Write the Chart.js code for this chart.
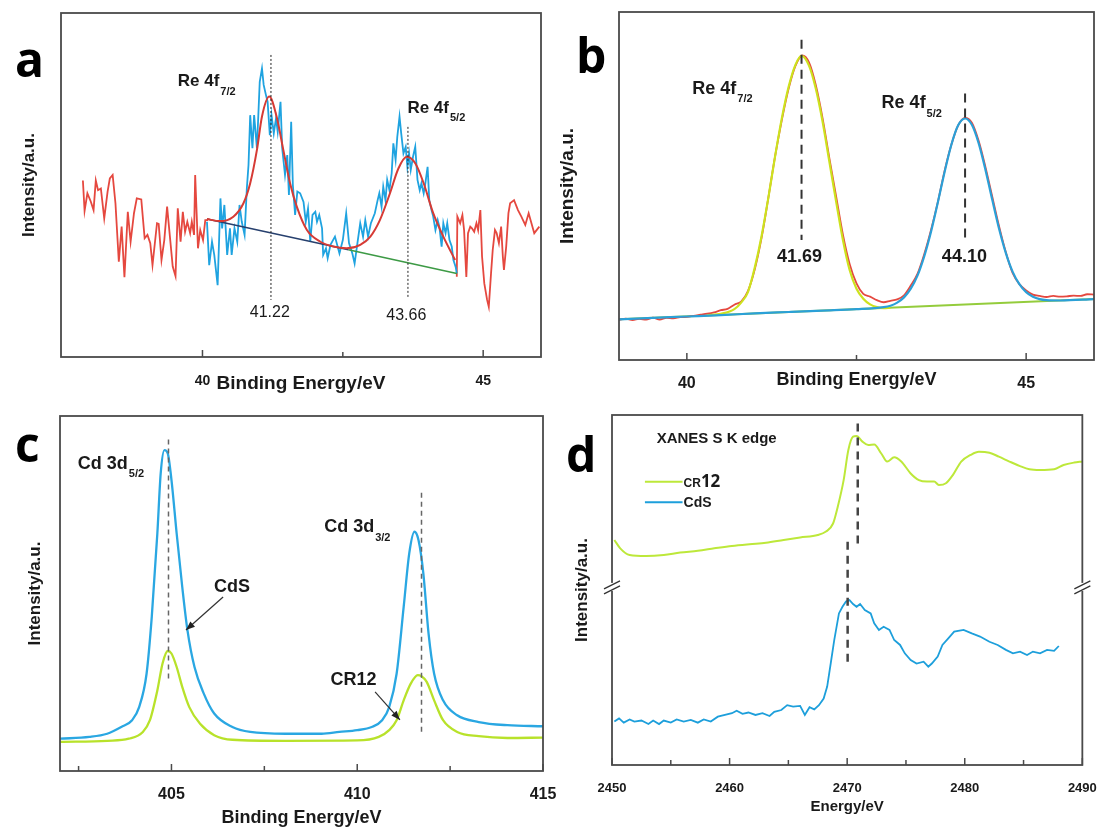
<!DOCTYPE html>
<html>
<head>
<meta charset="utf-8">
<script src="https://cdn.jsdelivr.net/npm/chart.js@4.4.1/dist/chart.umd.min.js"></script>
<style>
  html, body { margin: 0; padding: 0; background: #fff; }
  #wrap { position: relative; width: 1104px; height: 830px; overflow: hidden; }
  canvas { position: absolute; }
</style>
</head>
<body>
<div id="wrap">
  <canvas id="pa" width="552" height="400" style="left:0;top:0"></canvas>
  <canvas id="pb" width="552" height="400" style="left:552px;top:0"></canvas>
  <canvas id="pc" width="565" height="430" style="left:0;top:400px"></canvas>
  <canvas id="pd" width="552" height="430" style="left:552px;top:400px"></canvas>
</div>
<script>
// ---- panel a : Re 4f, noisy spectrum ----
const aRawLeftE = [37.87,37.90,37.95,38.01,38.06,38.10,38.14,38.19,38.25,38.31,38.35,38.40,38.45,38.51,38.56,38.61,38.67,38.72,38.78,38.83,38.91,38.97,39.02,39.07,39.11,39.19,39.22,39.27,39.32,39.37,39.42,39.47,39.52,39.56,39.61,39.65,39.69,39.73,39.78,39.81,39.85,39.87,39.92,39.96,40.01,40.05,40.10];
const aRawLeftI = [51.3,42.5,47.6,45.2,42.7,51.3,48.5,49.0,40.3,48.1,51.9,52.9,44.7,27.7,37.9,23.2,42.2,33.5,41.8,46.1,45.8,34.5,35.5,33.1,26.7,38.9,38.7,28.2,34.0,43.7,35.0,26.3,23.5,43.2,33.5,42.2,36.4,39.3,36.0,39.3,35.5,52.9,31.6,36.9,34.0,39.8,39.8];
const aRawMidE = [40.08,40.12,40.17,40.21,40.27,40.32,40.35,40.39,40.44,40.49,40.52,40.57,40.62,40.66,40.70,40.75,40.79,40.82,40.85,40.89,40.92,40.97,41.02,41.06,41.09,41.13,41.16,41.20,41.23,41.27,41.31,41.34,41.39,41.42,41.47,41.51,41.54,41.58,41.61,41.65,41.69,41.74,41.80,41.84,41.88,41.92,41.96,42.01,42.04,42.08,42.13,42.15,42.20,42.23,42.28,42.36,42.44,42.50,42.56,42.61,42.67,42.71,42.76,42.81,42.86,42.90,42.95,43.00,43.07,43.12,43.15,43.19,43.22,43.26,43.29,43.33,43.37,43.40,43.44,43.47,43.51,43.54,43.58,43.62,43.65,43.68,43.71,43.75,43.79,43.83,43.87,43.90,43.94,43.97,44.01,44.04,44.08,44.11,44.15,44.19,44.22,44.26,44.29,44.33,44.36,44.40,44.44,44.47,44.51,44.53];
const aRawMidI = [39.3,26.7,33.5,29.7,20.9,46.1,37.4,44.2,29.7,37.4,29.7,37.4,33.5,44.2,39.3,35.5,49.0,55.8,70.3,60.7,70.3,60.7,80.0,83.9,79.1,76.2,74.2,64.5,70.3,65.0,69.4,65.5,74.2,60.7,52.9,58.7,47.1,68.4,50.0,41.3,48.1,47.6,45.1,39.3,43.2,33.5,41.3,42.2,39.3,41.3,37.4,29.7,31.6,28.7,32.6,35.0,30.1,34.0,41.8,33.1,30.1,27.2,33.1,38.9,35.0,39.8,35.0,38.9,41.8,45.6,47.6,43.7,49.5,45.6,51.5,48.5,53.4,62.1,57.3,64.0,69.9,65.0,59.2,61.1,55.3,59.2,54.4,58.2,61.1,51.5,48.5,50.5,47.6,50.5,55.3,45.6,42.7,40.8,36.9,39.8,37.9,32.1,38.9,36.0,38.9,34.0,32.1,28.2,26.2,24.3];
const aRawRightE = [44.53,44.54,44.59,44.63,44.66,44.70,44.73,44.77,44.80,44.84,44.88,44.91,44.95,44.98,45.02,45.07,45.10,45.14,45.17,45.21,45.24,45.28,45.32,45.35,45.37,45.41,45.45,45.48,45.55,45.62,45.68,45.75,45.81,45.91,46.00];
const aRawRightI = [23.3,40.8,38.9,41.3,36.9,23.3,36.0,37.9,37.4,36.4,38.9,36.9,42.7,29.2,21.4,16.6,14.6,24.3,31.1,36.9,36.0,33.1,37.9,29.2,25.3,32.1,41.8,44.7,45.6,42.7,40.8,38.4,41.8,36.0,37.9];
const aFitE = [40.08,40.31,40.55,40.73,40.85,40.97,41.06,41.19,41.32,41.44,41.56,41.68,41.86,42.10,42.33,42.57,42.81,42.99,43.16,43.34,43.49,43.64,43.79,43.94,44.11,44.29,44.50];
const aFitI = [40.1,39.5,40.8,44.7,50.5,60.2,69.9,75.7,69.9,60.2,50.5,43.7,36.9,33.5,32.1,31.6,32.6,35.0,39.8,47.6,54.8,58.2,56.3,50.5,41.8,35.0,28.2];
const aBaseE = [40.08, 42.60, 44.53];
const aBaseI = [40.1, 31.2, 24.3];

// ---- panel b : Re 4f, fitted spectrum ----
const bRawE = [39.0,39.1,39.2,39.3,39.4,39.5,39.6,39.7,39.8,39.9,40.0,40.1,40.2,40.3,40.4,40.5,40.6,40.7,40.8,40.9,41.0,41.1,41.2,41.3,41.4,41.5,41.6,41.7,41.8,41.9,42.0,42.1,42.2,42.3,42.4,42.5,42.6,42.7,42.8,42.9,43.0,43.1,43.2,43.3,43.4,43.5,43.6,43.7,43.8,43.9,44.0,44.1,44.2,44.3,44.4,44.5,44.6,44.7,44.8,44.9,45.0,45.1,45.2,45.3,45.4,45.5,45.6,45.7,45.8,45.9,46.0];
const bRawI = [11.5,11.9,11.5,11.8,11.6,12.2,11.6,12.1,12.0,12.3,12.4,12.7,13.0,13.3,13.7,14.3,14.7,15.9,16.8,19.8,26.0,35.0,46.5,58.5,69.0,78.0,84.5,87.5,85.5,79.0,69.5,58.0,47.0,36.0,27.5,22.0,19.0,18.2,17.2,16.6,17.0,17.4,18.6,21.4,24.8,30.5,37.5,45.5,54.5,62.0,67.5,69.6,68.2,63.0,55.5,47.0,38.5,31.0,25.0,21.8,20.0,18.8,18.4,18.1,18.4,18.2,18.3,18.5,18.4,18.9,18.8];
const bPeak1E = [40.3,40.5,40.7,40.8,40.9,41.0,41.1,41.2,41.3,41.4,41.5,41.6,41.69,41.8,41.9,42.0,42.1,42.2,42.3,42.4,42.5,42.6,42.7,42.8,42.9,43.0];
const bPeak1I = [12.9,13.3,14.6,16.5,19.5,26.5,35.5,46.5,58.5,69.5,78.5,84.8,87.4,84.6,78.0,68.5,57.0,45.5,34.5,25.8,20.5,17.6,16.0,15.2,14.9,15.0];
const bPeak2E = [39.0,39.5,40.0,40.5,41.0,41.5,42.0,42.5,42.9,43.0,43.1,43.2,43.3,43.4,43.5,43.6,43.7,43.8,43.9,44.0,44.1,44.2,44.3,44.4,44.5,44.6,44.7,44.8,44.9,45.0,45.1,45.2,45.3,45.5,46.0];
const bPeak2I = [11.7,12.1,12.5,12.9,13.4,13.8,14.2,14.6,15.2,15.6,16.5,18.0,20.5,24.3,29.9,37.0,45.4,54.2,62.0,67.5,69.4,67.6,62.3,54.7,46.1,37.8,30.8,25.4,21.8,19.5,18.2,17.5,17.2,17.1,17.5];
const bBaseE = [39.0, 46.0];
const bBaseI = [11.7, 17.5];

// ---- panel c : Cd 3d ----
const cCdSE = [402.0,402.79,403.27,403.65,403.94,404.13,404.33,404.47,404.62,404.71,404.81,404.90,405.0,405.14,405.29,405.43,405.62,405.87,406.15,406.64,407.12,408.07,409.04,409.52,410.0,410.39,410.67,410.86,411.06,411.25,411.40,411.54,411.65,411.78,411.92,412.07,412.31,412.69,413.27,414.04,415.0];
const cCdSI = [9.1,9.6,10.5,12.4,14.3,18.0,27.4,43.4,66.9,83.8,90.4,89.5,82.0,66.9,51.9,39.7,29.3,21.8,16.2,12.4,11.0,10.5,10.5,11.0,11.5,12.4,14.3,18.0,27.4,46.2,61.3,67.4,65.0,55.6,38.7,27.4,19.9,15.7,13.8,12.9,12.6];
const cCR12E = [402.0,403.27,403.85,404.23,404.42,404.62,404.76,404.90,405.0,405.14,405.29,405.48,405.77,406.15,406.64,408.07,410.0,410.58,410.86,411.06,411.25,411.44,411.63,411.73,411.87,412.07,412.31,412.69,413.27,414.04,415.0];
const cCR12I = [8.2,8.5,9.1,11.0,14.3,22.7,30.3,33.8,33.1,29.3,23.7,18.0,13.3,10.1,8.8,8.5,8.6,9.6,11.5,14.3,19.9,24.6,27.0,26.7,25.1,19.9,14.3,11.0,9.8,9.3,9.4];

// ---- panel d : XANES S K edge ----
const dCR12E = [2450.2,2450.7,2451.5,2452.9,2454.4,2455.8,2457.3,2458.7,2460.2,2461.7,2463.1,2464.6,2466.0,2467.5,2468.2,2468.8,2469.2,2469.7,2470.1,2470.5,2470.8,2471.3,2471.8,2472.3,2472.9,2473.4,2474.0,2474.6,2475.4,2476.1,2476.8,2477.4,2477.8,2478.4,2479.0,2479.7,2480.5,2481.2,2482.1,2482.9,2483.8,2484.7,2485.5,2486.4,2487.6,2488.4,2489.3,2490.0];
const dCR12I = [64.3,61.9,60.0,59.7,60.0,60.7,61.2,61.9,62.6,63.1,63.5,64.3,65.0,65.7,66.7,69.0,73.8,81.4,90.0,93.8,94.0,92.4,91.4,91.6,89.0,86.7,87.9,86.7,83.3,81.4,81.0,81.0,80.0,80.5,82.9,86.7,88.6,89.5,89.2,88.1,86.7,85.4,84.5,84.3,84.5,85.7,86.4,86.7];
const dCdSE = [2450.2,2450.6,2451.0,2451.5,2451.9,2452.5,2453.1,2453.5,2454.0,2454.4,2455.0,2455.5,2456.1,2456.7,2457.3,2457.8,2458.4,2459.0,2459.6,2460.2,2460.6,2461.1,2461.6,2462.2,2462.8,2463.4,2463.8,2464.4,2464.9,2465.4,2466.0,2466.4,2466.8,2467.2,2467.6,2468.0,2468.3,2468.6,2468.9,2469.3,2469.6,2469.9,2470.2,2470.5,2470.8,2471.1,2471.5,2472.0,2472.3,2472.7,2473.1,2473.6,2474.0,2474.5,2474.9,2475.4,2475.9,2476.5,2476.9,2477.2,2477.7,2478.1,2478.6,2479.1,2479.9,2480.6,2481.3,2482.1,2482.8,2483.5,2484.1,2484.7,2485.3,2485.8,2486.4,2487.0,2487.6,2488.0];
const dCdSI = [12.4,13.3,12.1,13.0,12.4,12.7,11.7,12.7,11.7,12.7,12.1,13.0,12.4,12.9,12.1,13.0,12.4,13.8,14.3,14.8,15.5,14.6,15.0,14.3,14.8,14.0,15.2,15.7,17.1,16.7,16.9,14.3,16.5,15.9,17.1,19.0,22.4,29.0,35.7,43.3,45.2,46.7,47.1,46.0,45.2,46.0,44.3,43.3,40.5,38.6,39.5,38.6,35.7,34.3,31.9,30.0,29.0,29.5,28.1,29.0,31.0,34.3,36.2,38.1,38.6,37.6,36.7,35.2,34.3,32.9,31.9,32.4,31.4,32.4,31.9,32.9,32.6,34.0];

// axis ticks (all tick marks, then the ones that carry a label)
const abTicks = [40, 42.5, 45];
const abLabels = [40, 45];
const cTicks = [402.5, 405, 407.5, 410, 412.5, 415];
const cLabels = [405, 410, 415];
const dTicks = [2450, 2455, 2460, 2465, 2470, 2475, 2480, 2485, 2490];
const dLabels = [2450, 2460, 2470, 2480, 2490];

const FONT = "'Liberation Sans', Arial, sans-serif";
const INK = '#1a1a1a';

const pts = (xs, ys) => xs.slice(0, Math.min(xs.length, ys.length)).map((x, i) => ({ x, y: ys[i] }));

function line(xs, ys, color, width, order, smooth) {
  return {
    data: pts(xs, ys), borderColor: color, borderWidth: width, pointRadius: 0,
    fill: false, order: order,
    tension: smooth ? 0.4 : 0, cubicInterpolationMode: smooth ? 'monotone' : 'default'
  };
}

function drawLabel(ctx, px, py, l) {
  ctx.fillStyle = INK;
  ctx.textBaseline = 'middle';
  ctx.font = (l.weight || 'bold') + ' ' + l.size + 'px ' + FONT;
  ctx.textAlign = l.sub ? 'left' : (l.align || 'center');
  ctx.fillText(l.text, px, py);
  if (l.sub) {
    const w = ctx.measureText(l.text).width;
    ctx.font = 'bold ' + l.subSize + 'px ' + FONT;
    ctx.fillText(l.sub, px + w + 1, py + l.size * 0.58);
  }
}

const decor = {
  id: 'decor',
  afterDatasetsDraw(chart, args, o) {
    const ctx = chart.ctx, a = chart.chartArea;
    const sx = chart.scales.x, sy = chart.scales.y;
    const X = v => sx.getPixelForValue(v), Y = v => sy.getPixelForValue(v);
    ctx.save();

    (o.vlines || []).forEach(l => {
      ctx.beginPath();
      ctx.setLineDash(l.dash);
      ctx.lineWidth = l.width;
      ctx.strokeStyle = l.color;
      ctx.moveTo(X(l.x), Y(l.y1));
      ctx.lineTo(X(l.x), Y(l.y2));
      ctx.stroke();
    });
    ctx.setLineDash([]);

    // box frame and inward tick marks
    ctx.strokeStyle = '#4a4a4a';
    ctx.lineWidth = 1.8;
    ctx.strokeRect(a.left, a.top, a.right - a.left, a.bottom - a.top);
    ctx.lineWidth = 1.5;
    sx.ticks.forEach(t => {
      const px = X(t.value);
      ctx.beginPath();
      ctx.moveTo(px, a.bottom);
      ctx.lineTo(px, a.bottom - (t.label ? 7 : 5));
      ctx.stroke();
    });

    // axis break marks
    (o.breaks || []).forEach(b => {
      const py = Y(b);
      [a.left, a.right].forEach(px => {
        ctx.fillStyle = '#fff';
        ctx.fillRect(px - 3, py - 5, 6, 8);
        ctx.strokeStyle = '#333';
        ctx.lineWidth = 1.3;
        ctx.beginPath();
        ctx.moveTo(px - 8, py + 1); ctx.lineTo(px + 8, py - 7);
        ctx.moveTo(px - 8, py + 6); ctx.lineTo(px + 8, py - 2);
        ctx.stroke();
      });
    });

    (o.arrows || []).forEach(r => {
      const x1 = X(r.x1), y1 = Y(r.y1), x2 = X(r.x2), y2 = Y(r.y2);
      const ang = Math.atan2(y2 - y1, x2 - x1);
      ctx.strokeStyle = '#333';
      ctx.fillStyle = '#222';
      ctx.lineWidth = 1.2;
      ctx.beginPath(); ctx.moveTo(x1, y1); ctx.lineTo(x2, y2); ctx.stroke();
      ctx.beginPath();
      ctx.moveTo(x2, y2);
      ctx.lineTo(x2 - 9 * Math.cos(ang) + 3.5 * Math.sin(ang), y2 - 9 * Math.sin(ang) - 3.5 * Math.cos(ang));
      ctx.lineTo(x2 - 9 * Math.cos(ang) - 3.5 * Math.sin(ang), y2 - 9 * Math.sin(ang) + 3.5 * Math.cos(ang));
      ctx.closePath(); ctx.fill();
    });

    (o.labels || []).forEach(l => drawLabel(ctx, X(l.x), Y(l.y), l));

    (o.keys || []).forEach(k => {
      ctx.strokeStyle = k.color; ctx.lineWidth = 2;
      ctx.beginPath(); ctx.moveTo(X(k.x1), Y(k.y)); ctx.lineTo(X(k.x2), Y(k.y)); ctx.stroke();
      let px = X(k.x2) + 1;
      ctx.fillStyle = INK; ctx.textAlign = 'left'; ctx.textBaseline = 'alphabetic';
      k.parts.forEach(p => {
        ctx.font = 'bold ' + p.size + 'px ' + (p.family || FONT);
        ctx.fillText(p.text, px, Y(k.y) + 5);
        px += ctx.measureText(p.text).width;
      });
    });

    if (o.letter) {
      ctx.fillStyle = '#000'; ctx.textAlign = 'left'; ctx.textBaseline = 'alphabetic';
      ctx.font = "bold 48px 'Open Sans', sans-serif";
      ctx.fillText(o.letter.text, o.letter.x, o.letter.y);
    }
    ctx.restore();
  }
};

function panel(id, c) {
  return new Chart(document.getElementById(id), {
    type: 'line',
    data: { datasets: c.datasets },
    options: {
      responsive: false, animation: false, devicePixelRatio: 1,
      layout: { padding: { top: c.pad[0], right: c.pad[1], bottom: 0, left: 0 } },
      plugins: { legend: { display: false }, tooltip: { enabled: false }, decor: c.decor },
      scales: {
        x: {
          type: 'linear', min: c.range[0], max: c.range[1],
          afterBuildTicks: s => { s.ticks = c.ticks.map(v => ({ value: v })); },
          afterFit: s => { s.height = c.xH; },
          grid: { display: false }, border: { display: false },
          ticks: {
            autoSkip: false, maxRotation: 0, padding: c.tickPad, color: INK,
            font: { family: FONT, size: c.tickSize, weight: 'bold' },
            callback: v => c.labels.includes(v) ? String(v) : ''
          },
          title: {
            display: true, text: c.xTitle, color: INK,
            font: { family: FONT, size: c.xTitleSize, weight: 'bold' },
            padding: { top: 0, bottom: c.xTitlePad }
          }
        },
        y: {
          min: 0, max: 100,
          afterFit: s => { s.width = c.yW; },
          grid: { display: false }, border: { display: false }, ticks: { display: false },
          title: {
            display: true, text: 'Intensity/a.u.', color: INK,
            font: { family: FONT, size: c.yTitleSize, weight: 'bold' },
            padding: { top: c.yTitlePad, bottom: 0 }
          }
        }
      }
    },
    plugins: [decor]
  });
}

panel('pa', {
  range: [37.48, 46.03], ticks: abTicks, labels: abLabels,
  pad: [13, 11], xH: 43, yW: 61, tickPad: 7.6, tickSize: 14,
  xTitle: 'Binding Energy/eV', xTitleSize: 19, xTitlePad: 4.6, yTitleSize: 17, yTitlePad: 18.8,
  datasets: [
    line(aFitE, aFitI, '#d63b35', 2, 1, true),
    line(aBaseE.slice(0, 2), aBaseI.slice(0, 2), '#27406e', 1.6, 2, false),
    line(aBaseE.slice(1), aBaseI.slice(1), '#3d9a45', 1.6, 2, false),
    line(aRawMidE, aRawMidI, '#1fa3e0', 1.8, 3, false),
    line(aRawLeftE, aRawLeftI, '#e5483f', 1.8, 4, false),
    line(aRawRightE, aRawRightI, '#e5483f', 1.8, 4, false)
  ],
  decor: {
    vlines: [
      { x: 41.22, y1: 87.8, y2: 16.6, color: '#222', width: 1, dash: [2, 2] },
      { x: 43.66, y1: 66.9, y2: 17.4, color: '#222', width: 1, dash: [2, 2] }
    ],
    labels: [
      { x: 39.56, y: 80.0, text: 'Re 4f', sub: '7/2', size: 17, subSize: 11 },
      { x: 43.65, y: 72.4, text: 'Re 4f', sub: '5/2', size: 17, subSize: 11 },
      { x: 41.20, y: 12.8, text: '41.22', size: 16, weight: 'normal' },
      { x: 43.63, y: 11.9, text: '43.66', size: 16, weight: 'normal' }
    ],
    letter: { text: 'a', x: 15, y: 77 }
  }
});

panel('pb', {
  range: [39.0, 46.0], ticks: abTicks, labels: abLabels,
  pad: [12, 10], xH: 40, yW: 67, tickPad: 6.4, tickSize: 16,
  xTitle: 'Binding Energy/eV', xTitleSize: 18, xTitlePad: 9.2, yTitleSize: 19, yTitlePad: 4.6,
  datasets: [
    line(bPeak2E, bPeak2I, '#2ba0d8', 2.2, 1, true),
    line(bPeak1E, bPeak1I, '#cde21e', 2.2, 2, true),
    line(bRawE, bRawI, '#e5483f', 1.8, 3, true),
    line(bBaseE, bBaseI, '#94cc3c', 2, 4, false)
  ],
  decor: {
    vlines: [
      { x: 41.69, y1: 92.0, y2: 34.5, color: '#333', width: 2, dash: [9, 6] },
      { x: 44.10, y1: 76.6, y2: 34.5, color: '#333', width: 2, dash: [9, 6] }
    ],
    labels: [
      { x: 40.08, y: 78.0, text: 'Re 4f', sub: '7/2', size: 18, subSize: 11 },
      { x: 42.87, y: 73.7, text: 'Re 4f', sub: '5/2', size: 18, subSize: 11 },
      { x: 41.66, y: 29.6, text: '41.69', size: 18 },
      { x: 44.09, y: 29.6, text: '44.10', size: 18 }
    ],
    letter: { text: 'b', x: 24, y: 73 }
  }
});

panel('pc', {
  range: [402, 415], ticks: cTicks, labels: cLabels,
  pad: [16, 22], xH: 59, yW: 60, tickPad: 6.4, tickSize: 16,
  xTitle: 'Binding Energy/eV', xTitleSize: 18, xTitlePad: 1.2, yTitleSize: 17, yTitlePad: 24.8,
  datasets: [
    line(cCdSE, cCdSI, '#2aa7e2', 2.3, 1, true),
    line(cCR12E, cCR12I, '#b8e22a', 2.3, 2, true)
  ],
  decor: {
    vlines: [
      { x: 404.92, y1: 93.4, y2: 25.6, color: '#666', width: 1.5, dash: [5, 4] },
      { x: 411.73, y1: 78.4, y2: 10.5, color: '#666', width: 1.5, dash: [5, 4] }
    ],
    arrows: [
      { x1: 406.39, y1: 49.0, x2: 405.39, y2: 39.7 },
      { x1: 410.48, y1: 22.3, x2: 411.15, y2: 14.4 }
    ],
    labels: [
      { x: 402.48, y: 86.5, text: 'Cd 3d', sub: '5/2', size: 18, subSize: 11 },
      { x: 409.11, y: 68.6, text: 'Cd 3d', sub: '3/2', size: 18, subSize: 11 },
      { x: 406.63, y: 51.8, text: 'CdS', size: 18 },
      { x: 409.90, y: 25.6, text: 'CR12', size: 18 }
    ],
    letter: { text: 'c', x: 15, y: 62 }
  }
});

panel('pd', {
  range: [2450, 2490], ticks: dTicks, labels: dLabels,
  pad: [15, 15], xH: 65, yW: 60, tickPad: 7.2, tickSize: 13,
  xTitle: 'Energy/eV', xTitleSize: 15, xTitlePad: 14, yTitleSize: 17, yTitlePad: 19.8,
  datasets: [
    line(dCR12E, dCR12I, '#bde83a', 2, 1, true),
    line(dCdSE, dCdSI, '#1d9fdb', 1.8, 2, false)
  ],
  decor: {
    vlines: [
      { x: 2470.9, y1: 97.6, y2: 62.4, color: '#444', width: 2.5, dash: [8, 6] },
      { x: 2470.04, y1: 63.8, y2: 29.0, color: '#444', width: 2.5, dash: [8, 6] }
    ],
    breaks: [50.6],
    labels: [
      { x: 2453.8, y: 93.1, text: 'XANES S K edge', size: 15, align: 'left' }
    ],
    keys: [
      { x1: 2452.8, x2: 2456.0, y: 80.9, color: '#bde83a',
        parts: [{ text: 'CR', size: 12 }, { text: '12', size: 17, family: "'Open Sans', sans-serif" }] },
      { x1: 2452.8, x2: 2456.0, y: 75.1, color: '#1d9fdb', parts: [{ text: 'CdS', size: 14 }] }
    ],
    letter: { text: 'd', x: 14, y: 72 }
  }
});
</script>
</body>
</html>
